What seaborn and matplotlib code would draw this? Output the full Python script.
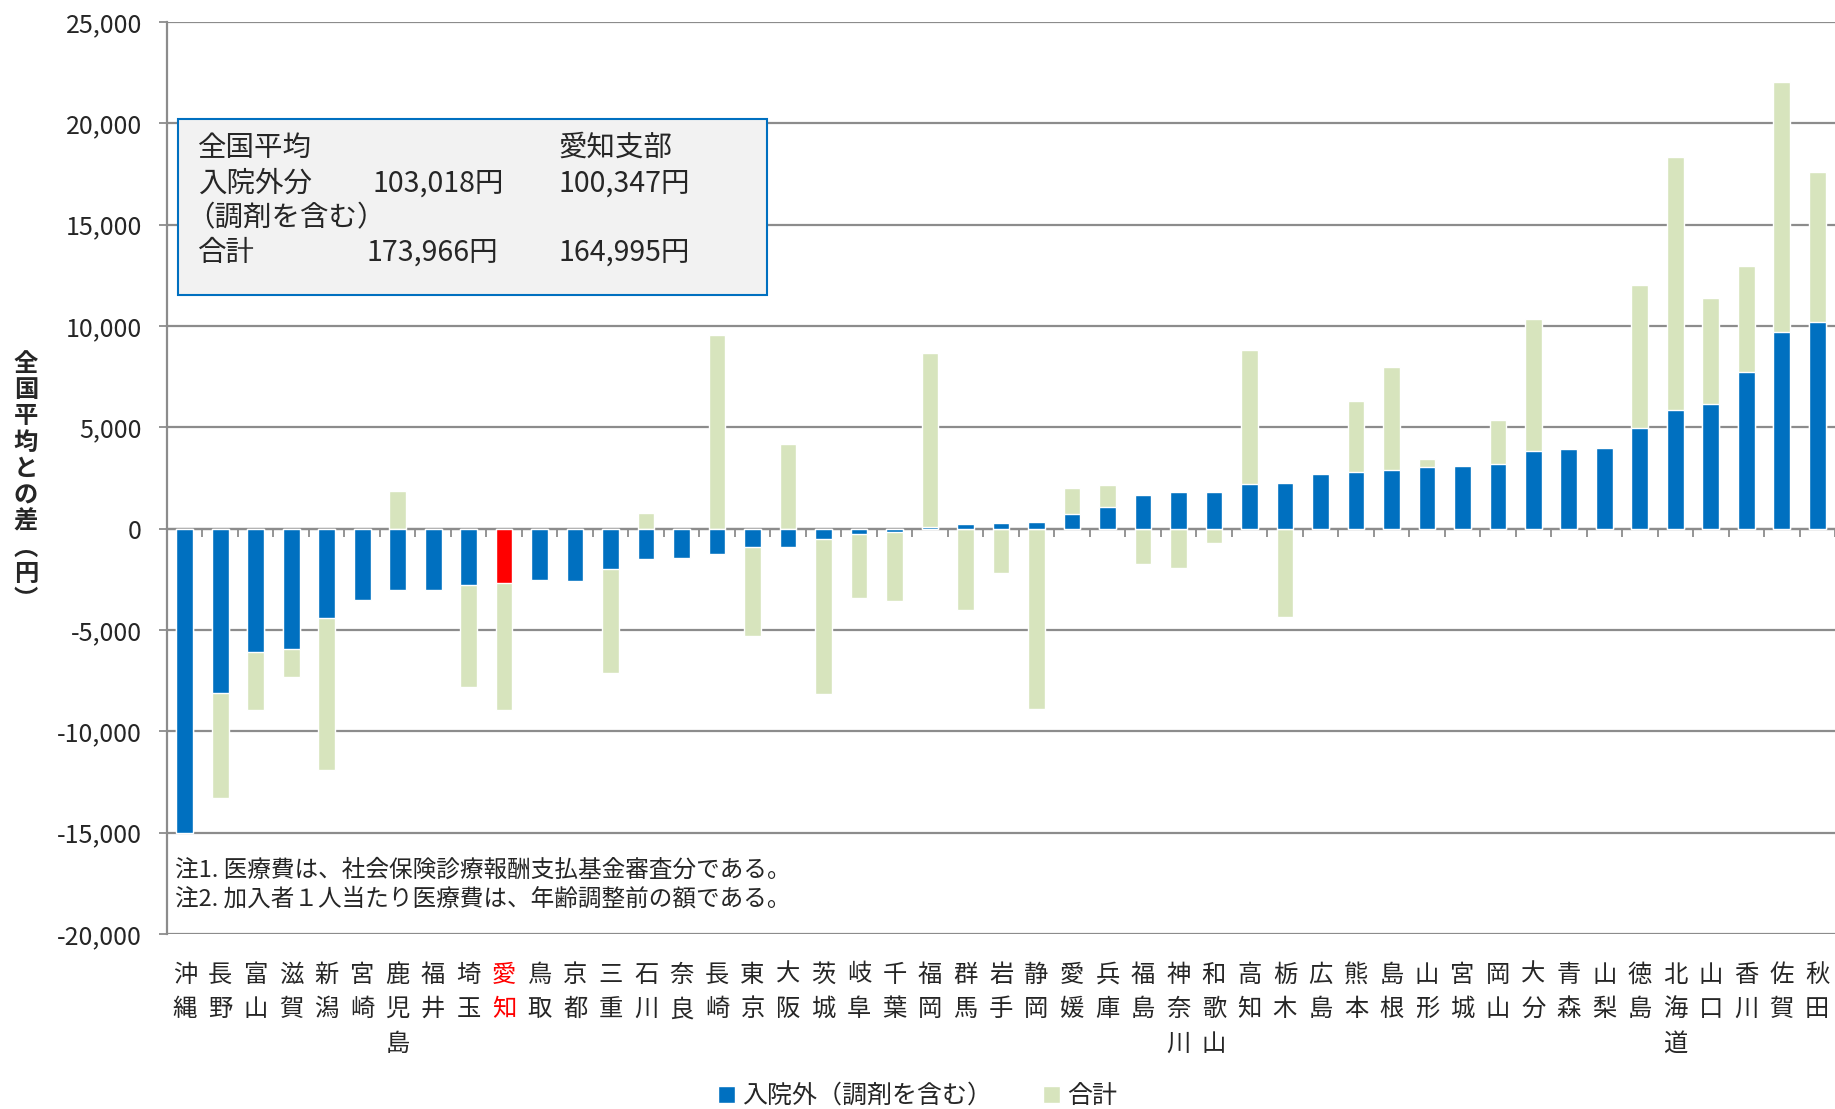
import matplotlib
matplotlib.use("Agg")
import matplotlib.pyplot as plt
from matplotlib.patches import Patch, Rectangle
from matplotlib.ticker import FuncFormatter, FixedLocator
import pandas as pd
import seaborn as sns

prefs = ["沖縄", "長野", "富山", "滋賀", "新潟", "宮崎", "鹿児島", "福井", "埼玉", "愛知",
         "鳥取", "京都", "三重", "石川", "奈良", "長崎", "東京", "大阪", "茨城", "岐阜",
         "千葉", "福岡", "群馬", "岩手", "静岡", "愛媛", "兵庫", "福島", "神奈川", "和歌山",
         "高知", "栃木", "広島", "熊本", "島根", "山形", "宮城", "岡山", "大分", "青森",
         "山梨", "徳島", "北海道", "山口", "香川", "佐賀", "秋田"]

# 入院外（調剤を含む） 全国平均との差
outpatient = [-15000, -8100, -6100, -5950, -4400, -3500, -3050, -3050, -2800, -2671,
              -2550, -2570, -2000, -1500, -1450, -1250, -920, -900, -500, -250,
              -150, 100, 250, 300, 320, 720, 1060, 1650, 1800, 1800,
              2200, 2260, 2700, 2800, 2900, 3050, 3110, 3170, 3850, 3920,
              3970, 4950, 5850, 6160, 7750, 9700, 10200]

# 合計 全国平均との差
total = [-12500, -13300, -8950, -7300, -11900, -2200, 1850, -1800, -7800, -8971,
         -1500, -1600, -7100, 750, -900, 9550, -5300, 4200, -8150, -3400,
         -3550, 8650, -4000, -2200, -8900, 2000, 2150, -1750, -1950, -700,
         8800, -4380, 2000, 6300, 8000, 3450, 1800, 5350, 10350, 2400,
         2300, 12000, 18350, 11400, 12950, 22050, 17600]

df = pd.DataFrame({"pref": prefs, "outpatient": outpatient, "total": total})

BLUE = "#0070C0"
GREEN = "#D7E4BD"
RED = "#FF0000"
GRID = "#8C8C8C"

sns.set_theme(style="white")
plt.rcParams["font.family"] = ["Noto Sans CJK JP", "DejaVu Sans"]

fig = plt.figure(figsize=(18.35, 11.09), dpi=100)
W, H = 1835, 1109
ax = fig.add_axes([167 / W, 1 - 934 / H, 1 - 167 / W, (934 - 22) / H])

sns.barplot(data=df, x="pref", y="total", color=GREEN, width=0.47,
            saturation=1, ax=ax, zorder=2)
blue_cols = [RED if p == "愛知" else BLUE for p in prefs]
sns.barplot(data=df, x="pref", y="outpatient", hue="pref", palette=blue_cols,
            width=0.47, saturation=1, legend=False, ax=ax, zorder=3)

ymin, ymax = -20000, 25000
ax.set_ylim(ymin, ymax)
ax.set_xlim(-0.5, len(prefs) - 0.5)
ax.set_yticks(range(ymin, ymax + 1, 5000))
ax.yaxis.set_major_formatter(FuncFormatter(lambda v, p: f"{int(v):,}"))
ax.yaxis.grid(True, color=GRID, linewidth=1.6, zorder=0)
ax.set_axisbelow(True)
ax.tick_params(axis="y", length=6, width=1.3, color=GRID, labelsize=18, pad=12,
               left=True)
for s in ["top", "right", "bottom"]:
    ax.spines[s].set_visible(False)
ax.spines["left"].set_color(GRID)
ax.spines["left"].set_linewidth(1.6)

ax.set_xlabel("")
ax.set_ylabel("")
ax.set_xticks(range(len(prefs)))
ax.set_xticklabels(["\n".join(p) for p in prefs], fontsize=17.5, linespacing=1.42,
                   va="top")
ax.tick_params(axis="x", length=0, pad=20)
for lbl in ax.get_xticklabels():
    if lbl.get_text().replace("\n", "") == "愛知":
        lbl.set_color(RED)

# zero axis with category boundary ticks
zero = ax.secondary_xaxis((0 - ymin) / (ymax - ymin))
zero.xaxis.set_major_locator(FixedLocator([i + 0.5 for i in range(len(prefs))]))
zero.set_xticklabels([])
zero.tick_params(axis="x", length=6, width=1.3, color=GRID, direction="out")
zero.spines["bottom"].set_color(GRID)
zero.spines["bottom"].set_linewidth(1.6)

# info box
ax.add_patch(Rectangle(((178 - 167) / 1668, (934 - 295) / 912), (767 - 178) / 1668,
                       (295 - 119) / 912, transform=ax.transAxes, facecolor="#F2F2F2",
                       edgecolor=BLUE, linewidth=1.5, zorder=4))
fs_box = 20.5
def ftxt(x, y, s, ha="left", **kw):
    fig.text(x / W, 1 - y / H, s, ha=ha, va="center", zorder=5, **kw)

ftxt(198, 148, "全国平均", fontsize=fs_box)
ftxt(558, 148, "愛知支部", fontsize=fs_box)
ftxt(198, 184, "入院外分", fontsize=fs_box)
ftxt(504, 184, "103,018円", ha="right", fontsize=fs_box)
ftxt(690, 184, "100,347円", ha="right", fontsize=fs_box)
ftxt(186, 218, "（調剤を含む）", fontsize=fs_box)
ftxt(198, 253, "合計", fontsize=fs_box)
ftxt(498, 253, "173,966円", ha="right", fontsize=fs_box)
ftxt(690, 253, "164,995円", ha="right", fontsize=fs_box)

# notes
ftxt(175, 870, "注1. 医療費は、社会保険診療報酬支払基金審査分である。", fontsize=17)
ftxt(175, 899, "注2. 加入者１人当たり医療費は、年齢調整前の額である。", fontsize=17)

# y label, stacked vertically
fig.text(26 / W, 1 - 482 / H, "\n".join("全国平均との差︵円︶"), ha="center",
         va="center", fontsize=17.5, fontweight="bold", linespacing=1.12)

handles = [Patch(facecolor=BLUE, label="入院外（調剤を含む）"),
           Patch(facecolor=GREEN, label="合計")]
fig.legend(handles=handles, loc="center", bbox_to_anchor=(0.5, 1 - 1096 / H), ncol=2,
           frameon=False, fontsize=18, handlelength=0.7, handleheight=0.7,
           handletextpad=0.3, columnspacing=2.0)

fig.savefig("out.png", dpi=100)
